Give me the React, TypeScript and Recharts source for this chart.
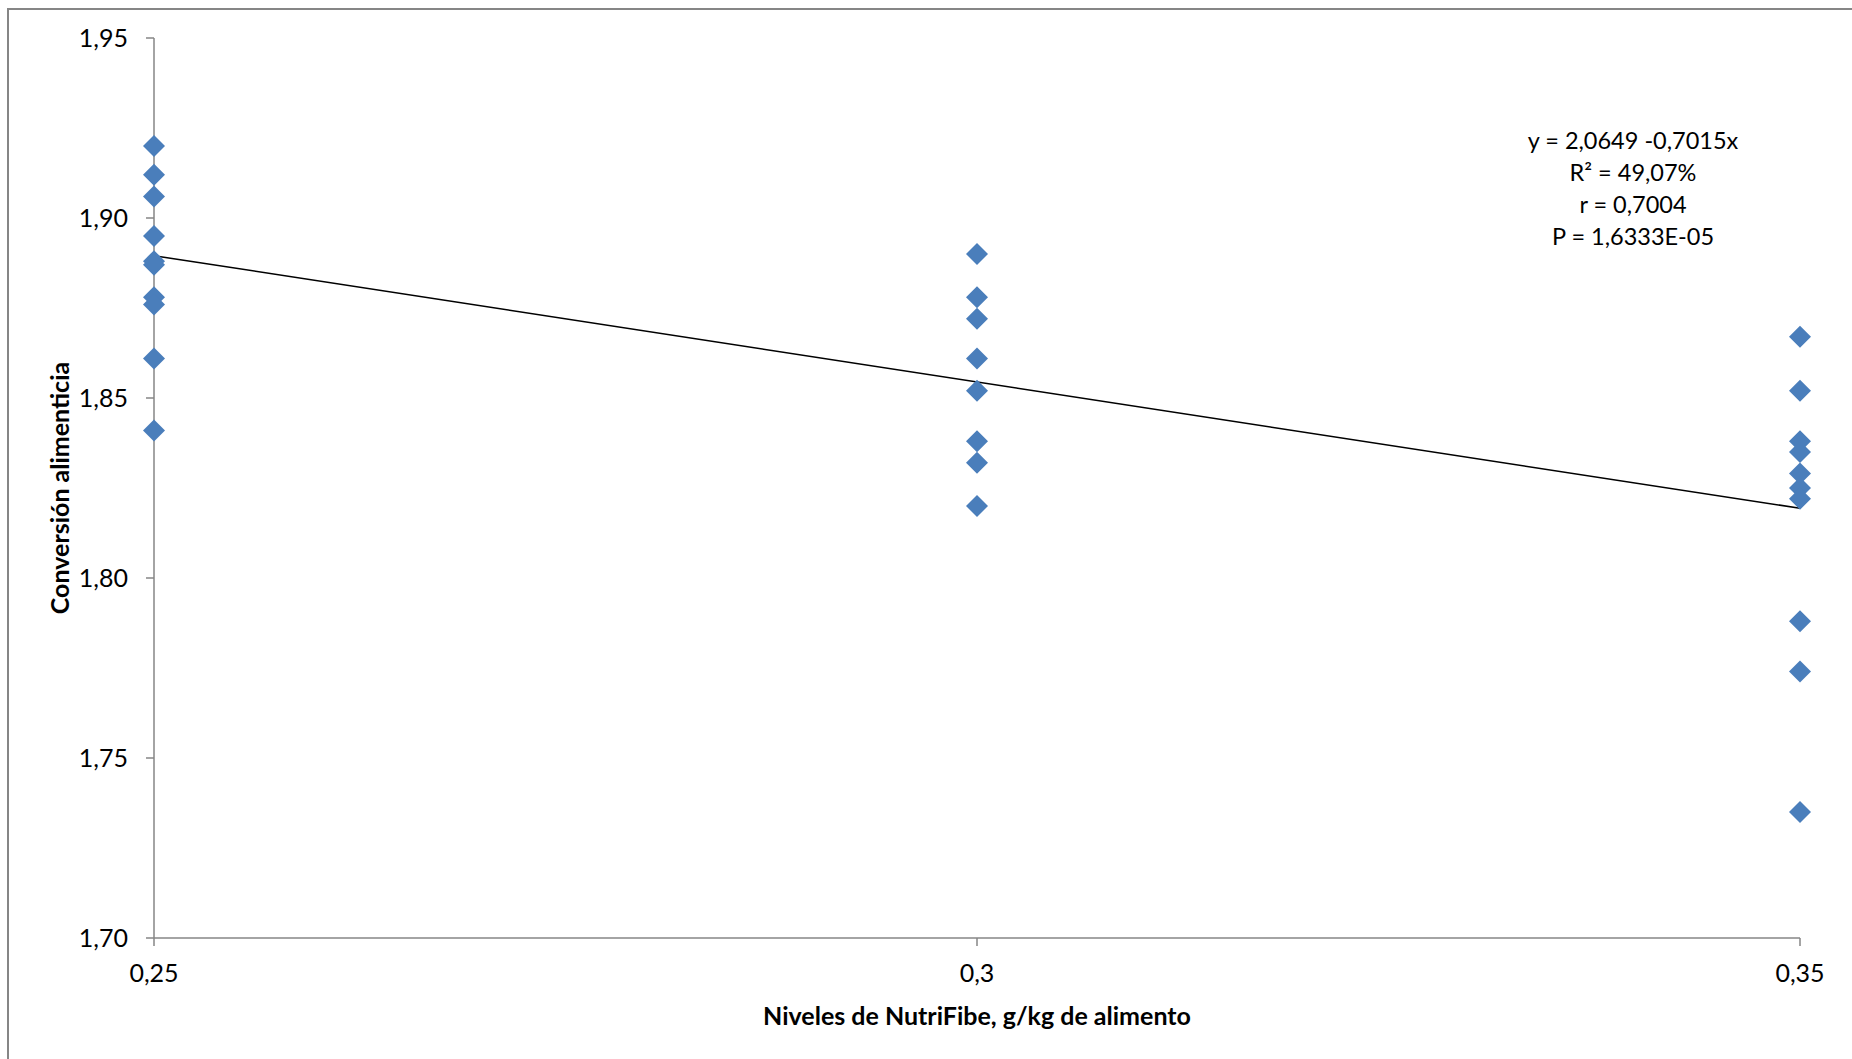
import React from 'react';
import { ScatterChart, Scatter, XAxis, YAxis, Label } from 'recharts';

// Feed conversion observations per NutriFibe level
const xLevels = [0.25, 0.3, 0.35];
const conv025 = [1.920, 1.912, 1.906, 1.895, 1.888, 1.887, 1.878, 1.876, 1.861, 1.841];
const conv030 = [1.890, 1.878, 1.872, 1.861, 1.852, 1.838, 1.832, 1.820];
const conv035 = [1.867, 1.852, 1.838, 1.835, 1.829, 1.825, 1.822, 1.788, 1.774, 1.735];

const xTicks = [0.25, 0.3, 0.35];
const yTicks = [1.70, 1.75, 1.80, 1.85, 1.90, 1.95];

// regression: y = intercept + slope * x
const regression = [2.0649, -0.7015];
const annotationLines = ['y = 2,0649 -0,7015x', 'R² = 49,07%', 'r = 0,7004', 'P = 1,6333E-05'];

const points = [
  ...conv025.map((y) => ({ x: xLevels[0], y })),
  ...conv030.map((y) => ({ x: xLevels[1], y })),
  ...conv035.map((y) => ({ x: xLevels[2], y })),
];
const trend = [xLevels[0], xLevels[2]].map((x) => ({ x, y: regression[0] + regression[1] * x }));

const FONT = 'Lato, "Open Sans", sans-serif';
const AXIS = '#868686';

const Diamond = (props: any) => {
  const { cx, cy } = props;
  const r = 11;
  return (
    <polygon
      points={`${cx},${cy - r} ${cx + r},${cy} ${cx},${cy + r} ${cx - r},${cy}`}
      fill="#4A7EBB"
    />
  );
};

const NoShape = () => <g />;

export default function App() {
  return (
    <div style={{ position: 'absolute', left: 0, top: 0, width: 1852, height: 1059, background: '#fff', overflow: 'hidden' }}>
      <div
        style={{
          position: 'absolute',
          left: 7,
          top: 8,
          width: 1900,
          height: 1100,
          borderLeft: `2px solid ${AXIS}`,
          borderTop: `2px solid ${AXIS}`,
        }}
      />
      <div style={{ position: 'absolute', left: 0, top: 0 }}>
        <ScatterChart
          width={1852}
          height={1059}
          margin={{ top: 38, right: 52, bottom: 21, left: 34 }}
        >
          <XAxis
            type="number"
            dataKey="x"
            domain={[0.25, 0.35]}
            ticks={xTicks}
            interval={0}
            height={100}
            tickFormatter={(v: number) => String(v).replace('.', ',')}
            axisLine={{ stroke: AXIS, strokeWidth: 1.5 }}
            tickLine={{ stroke: AXIS, strokeWidth: 1.5 }}
            tickSize={8}
            tickMargin={18}
            tick={{ fontFamily: FONT, fontSize: 25, fill: '#000' }}
          >
            <Label
              content={(p: any) => {
                const vb = p.viewBox;
                return (
                  <text
                    x={vb.x + vb.width / 2}
                    y={vb.y + 87}
                    textAnchor="middle"
                    fontFamily={FONT}
                    fontWeight="bold"
                    fontSize={25}
                    fill="#000"
                  >
                    Niveles de NutriFibe, g/kg de alimento
                  </text>
                );
              }}
            />
          </XAxis>
          <YAxis
            type="number"
            dataKey="y"
            domain={[1.7, 1.95]}
            ticks={yTicks}
            interval={0}
            width={120}
            tickFormatter={(v: number) => v.toFixed(2).replace('.', ',')}
            axisLine={{ stroke: AXIS, strokeWidth: 1.5 }}
            tickLine={{ stroke: AXIS, strokeWidth: 1.5 }}
            tickSize={8}
            tickMargin={18}
            tick={{ fontFamily: FONT, fontSize: 25, fill: '#000' }}
          >
            <Label
              content={(p: any) => {
                const vb = p.viewBox;
                const cx = vb.x + 25;
                const cy = vb.y + vb.height / 2;
                return (
                  <text
                    x={cx}
                    y={cy}
                    transform={`rotate(-90 ${cx} ${cy})`}
                    textAnchor="middle"
                    dominantBaseline="central"
                    fontFamily={FONT}
                    fontWeight="bold"
                    fontSize={25}
                    fill="#000"
                  >
                    Conversión alimenticia
                  </text>
                );
              }}
            />
          </YAxis>
          <Scatter
            data={trend}
            line={{ stroke: '#000', strokeWidth: 1.5 }}
            shape={NoShape}
            isAnimationActive={false}
          />
          <Scatter data={points} shape={Diamond} isAnimationActive={false} />
        </ScatterChart>
      </div>
      <div
        style={{
          position: 'absolute',
          left: 1483,
          top: 124,
          width: 300,
          textAlign: 'center',
          fontFamily: FONT,
          fontSize: 23.5,
          lineHeight: '32px',
          color: '#000',
        }}
      >
        {annotationLines.map((l) => (
          <div key={l}>{l}</div>
        ))}
      </div>
    </div>
  );
}
